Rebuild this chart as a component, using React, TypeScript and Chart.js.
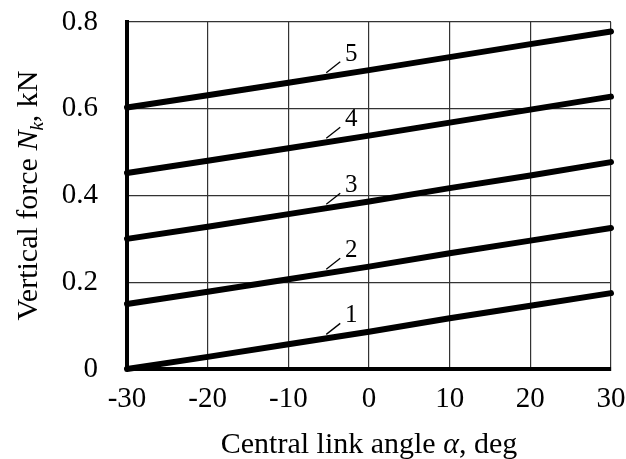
import React, { useEffect, useRef } from "react";
import { Chart, registerables } from "chart.js";
Chart.register(...registerables);

// ---- data ----
const angles = [-30, -20, -10, 0, 10, 20, 30];
const curve1 = [0, 0.028, 0.057, 0.086, 0.117, 0.146, 0.175];
const curve2 = [0.15, 0.178, 0.207, 0.236, 0.267, 0.296, 0.325];
const curve3 = [0.3, 0.328, 0.357, 0.386, 0.417, 0.446, 0.477];
const curve4 = [0.452, 0.48, 0.509, 0.538, 0.568, 0.598, 0.628];
const curve5 = [0.603, 0.631, 0.66, 0.689, 0.719, 0.749, 0.778];
const curveNames = ["1", "2", "3", "4", "5"];
const xTicks = [-30, -20, -10, 0, 10, 20, 30];
const yTicks = [0, 0.2, 0.4, 0.6, 0.8];
const labelAngle = -5.3; // where the numbered leaders leave the curves
const FONT = "'Liberation Serif', 'Times New Roman', serif";

const allCurves = [curve1, curve2, curve3, curve4, curve5];

function valueAt(curve: number[], a: number) {
  for (let i = 0; i < angles.length - 1; i++) {
    if (a >= angles[i] && a <= angles[i + 1]) {
      const t = (a - angles[i]) / (angles[i + 1] - angles[i]);
      return curve[i] + t * (curve[i + 1] - curve[i]);
    }
  }
  return curve[curve.length - 1];
}

const overlayPlugin = {
  id: "overlay",
  afterDatasetsDraw(chart: any) {
    const ctx = chart.ctx;
    const xs = chart.scales.x;
    const ys = chart.scales.y;
    const area = chart.chartArea;
    ctx.save();
    // curve labels with leader lines
    ctx.strokeStyle = "#000";
    ctx.lineWidth = 1.3;
    ctx.fillStyle = "#000";
    ctx.font = `25px ${FONT}`;
    ctx.textAlign = "center";
    ctx.textBaseline = "alphabetic";
    allCurves.forEach((c, i) => {
      const px = xs.getPixelForValue(labelAngle);
      const py = ys.getPixelForValue(valueAt(c, labelAngle)) - 4;
      ctx.beginPath();
      ctx.moveTo(px, py);
      ctx.lineTo(px + 14, py - 11);
      ctx.stroke();
      ctx.fillText(curveNames[i], px + 25, py - 12);
    });
    // x title with italic alpha
    const parts = [
      { t: "Central link angle ", it: false },
      { t: "α", it: true },
      { t: ", deg", it: false },
    ];
    const size = 30;
    const fontOf = (it: boolean) => `${it ? "italic " : ""}${size}px ${FONT}`;
    let total = 0;
    parts.forEach((p) => {
      ctx.font = fontOf(p.it);
      total += ctx.measureText(p.t).width;
    });
    let x = (area.left + area.right) / 2 - total / 2;
    ctx.textAlign = "left";
    parts.forEach((p) => {
      ctx.font = fontOf(p.it);
      ctx.fillText(p.t, x, 453);
      x += ctx.measureText(p.t).width;
    });
    // y title, rotated
    ctx.translate(37, (area.top + area.bottom) / 2);
    ctx.rotate(-Math.PI / 2);
    const yparts = [
      { t: "Vertical force ", it: false, sub: false },
      { t: "N", it: true, sub: false },
      { t: "k", it: true, sub: true },
      { t: ", kN", it: false, sub: false },
    ];
    const f2 = (p: any) => `${p.it ? "italic " : ""}${p.sub ? 19 : size}px ${FONT}`;
    let tot2 = 0;
    yparts.forEach((p) => {
      ctx.font = f2(p);
      tot2 += ctx.measureText(p.t).width;
    });
    let yx = -tot2 / 2;
    yparts.forEach((p) => {
      ctx.font = f2(p);
      ctx.fillText(p.t, yx, p.sub ? 6 : 0);
      yx += ctx.measureText(p.t).width;
    });
    ctx.restore();
  },
};

export default function App() {
  const ref = useRef<HTMLCanvasElement>(null);
  useEffect(() => {
    const chart = new Chart(ref.current!, {
      type: "line",
      data: {
        datasets: allCurves.map((c, i) => ({
          label: curveNames[i],
          data: angles.map((a, j) => ({ x: a, y: c[j] })),
          borderColor: "#000",
          borderWidth: 6,
          borderCapStyle: "round",
          pointRadius: 0,
          tension: 0,
          clip: false,
        })),
      },
      options: {
        animation: false,
        responsive: false,
        layout: { padding: { top: 22, right: 15, left: 0, bottom: 0 } },
        plugins: { legend: { display: false }, tooltip: { enabled: false }, title: { display: false } },
        scales: {
          x: {
            type: "linear",
            min: -30,
            max: 30,
            afterBuildTicks: (s: any) => {
              s.ticks = xTicks.map((v) => ({ value: v }));
            },
            afterFit: (s: any) => {
              s.height = 90;
              s.paddingLeft = 0;
              s.paddingRight = 0;
            },
            ticks: {
              color: "#000",
              font: { family: FONT, size: 29 },
              padding: 13,
              maxRotation: 0,
              callback: (v: any) => String(v),
            },
            grid: { color: "#333", lineWidth: 1.2, drawTicks: false },
            border: { display: true, color: "#000", width: 4 },
          },
          y: {
            type: "linear",
            min: 0,
            max: 0.8,
            afterBuildTicks: (s: any) => {
              s.ticks = yTicks.map((v) => ({ value: v }));
            },
            afterFit: (s: any) => {
              s.width = 127;
              s.paddingTop = 0;
              s.paddingBottom = 0;
            },
            ticks: {
              color: "#000",
              font: { family: FONT, size: 29 },
              padding: 29,
              callback: (v: any) => (v === 0 ? "0" : Number(v).toFixed(1)),
            },
            grid: { color: "#333", lineWidth: 1.2, drawTicks: false },
            border: { display: true, color: "#000", width: 4 },
          },
        },
      } as any,
      plugins: [overlayPlugin],
    });
    return () => chart.destroy();
  }, []);
  return (
    <div style={{ position: "absolute", left: 0, top: 0, width: 626, height: 459, background: "#fff" }}>
      <canvas ref={ref} width={626} height={459} style={{ width: 626, height: 459, display: "block" }} />
    </div>
  );
}
